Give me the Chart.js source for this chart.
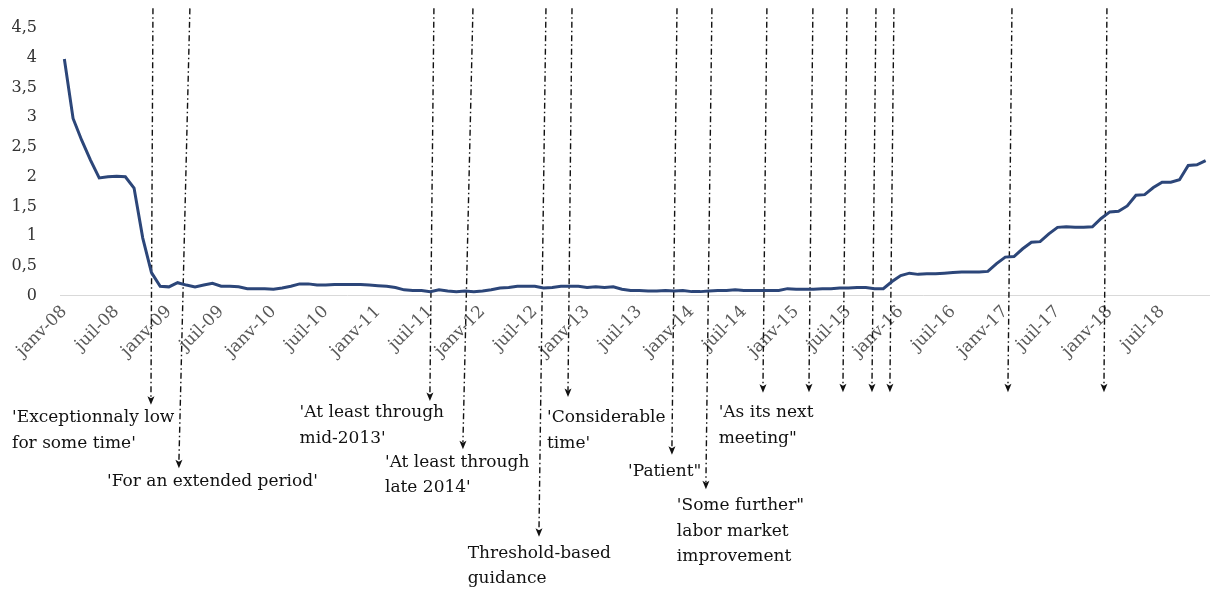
<!DOCTYPE html>
<html>
<head>
<meta charset="utf-8">
<script src="https://cdn.jsdelivr.net/npm/chart.js@4.4.1/dist/chart.umd.min.js"></script>
<style>
  html, body { margin: 0; padding: 0; background: #fff; }
  #wrap { width: 1210px; height: 594px; }
</style>
</head>
<body>
<div id="wrap"><canvas id="fedFundsChart"></canvas></div>
<script>
// Mois (janv-08 ... déc-18)
const monthNames = ['janv', 'févr', 'mars', 'avr', 'mai', 'juin', 'juil', 'août', 'sept', 'oct', 'nov', 'déc'];
const years = ['08', '09', '10', '11', '12', '13', '14', '15', '16', '17', '18'];
const months = [];
years.forEach(y => monthNames.forEach(m => months.push(m + '-' + y)));

// Taux effectif des fed funds, moyenne mensuelle (%)
const fedFunds = [
  3.98, 2.98, 2.61, 2.28, 1.98, 2.00, 2.01, 2.00, 1.81, 0.97, 0.39, 0.16,
  0.15, 0.22, 0.18, 0.15, 0.18, 0.21, 0.16, 0.16, 0.15, 0.12, 0.12, 0.12,
  0.11, 0.13, 0.16, 0.20, 0.20, 0.18, 0.18, 0.19, 0.19, 0.19, 0.19, 0.18,
  0.17, 0.16, 0.14, 0.10, 0.09, 0.09, 0.07, 0.10, 0.08, 0.07, 0.08, 0.07,
  0.08, 0.10, 0.13, 0.14, 0.16, 0.16, 0.16, 0.13, 0.14, 0.16, 0.16, 0.16,
  0.14, 0.15, 0.14, 0.15, 0.11, 0.09, 0.09, 0.08, 0.08, 0.09, 0.08, 0.09,
  0.07, 0.07, 0.08, 0.09, 0.09, 0.10, 0.09, 0.09, 0.09, 0.09, 0.09, 0.12,
  0.11, 0.11, 0.11, 0.12, 0.12, 0.13, 0.13, 0.14, 0.14, 0.12, 0.12, 0.24,
  0.34, 0.38, 0.36, 0.37, 0.37, 0.38, 0.39, 0.40, 0.40, 0.40, 0.41, 0.54,
  0.65, 0.66, 0.79, 0.90, 0.91, 1.04, 1.15, 1.16, 1.15, 1.15, 1.16, 1.30,
  1.41, 1.42, 1.51, 1.69, 1.70, 1.82, 1.91, 1.91, 1.95, 2.19, 2.20, 2.27
];

const yTicks = [0, 0.5, 1, 1.5, 2, 2.5, 3, 3.5, 4, 4.5];

// Forward guidance : flèches (index de mois, valeurs en unités de l'axe y)
const arrowTopY = 4.83;
const guidance = [
  { top: 10.17, tip: 9.94, tipY: -1.83, tx: -6.0, ty: -2.05, text: ["'Exceptionnaly low", "for some time'"] },
  { top: 14.41, tip: 13.15, tipY: -2.9, tx: 4.9, ty: -3.12, text: ["'For an extended period'"] },
  { top: 42.42, tip: 41.96, tipY: -1.77, tx: 27.0, ty: -1.97, text: ["'At least through", "mid-2013'"] },
  { top: 46.9, tip: 45.75, tipY: -2.58, tx: 36.8, ty: -2.8, text: ["'At least through", "late 2014'"] },
  { top: 55.28, tip: 54.48, tipY: -4.05, tx: 46.3, ty: -4.33, text: ["Threshold-based", "guidance"] },
  { top: 58.27, tip: 57.81, tipY: -1.7, tx: 55.4, ty: -2.05, text: ["'Considerable", "time'"] },
  { top: 70.32, tip: 69.74, tipY: -2.67, tx: 64.7, ty: -2.95, text: ["'Patient\""] },
  { top: 74.33, tip: 73.64, tipY: -3.25, tx: 70.3, ty: -3.53, text: ["'Some further\"", "labor market", "improvement"] },
  { top: 80.64, tip: 80.19, tipY: -1.63, tx: 75.1, ty: -1.97, text: ["'As its next", "meeting\""] },
  { top: 85.92, tip: 85.47, tipY: -1.62 },
  { top: 89.83, tip: 89.37, tipY: -1.62 },
  { top: 93.16, tip: 92.7, tipY: -1.62 },
  { top: 95.22, tip: 94.76, tipY: -1.62 },
  { top: 108.77, tip: 108.31, tipY: -1.62 },
  { top: 119.67, tip: 119.33, tipY: -1.62 }
];

const serif = 'DejaVu Serif';

const guidancePlugin = {
  id: 'guidanceArrows',
  beforeDatasetsDraw(chart) {
    const { ctx, scales: { x, y } } = chart;
    ctx.save();
    ctx.strokeStyle = '#111';
    ctx.fillStyle = '#111';
    ctx.lineWidth = 1.4;
    guidance.forEach(g => {
      const x1 = x.getPixelForValue(g.top);
      const y1 = y.getPixelForValue(arrowTopY);
      const x2 = x.getPixelForValue(g.tip);
      const y2 = y.getPixelForValue(g.tipY);
      ctx.setLineDash([6, 3, 1.5, 3]);
      ctx.beginPath();
      ctx.moveTo(x1, y1);
      ctx.lineTo(x2, y2 - 7);
      ctx.stroke();
      ctx.setLineDash([]);
      ctx.beginPath();
      ctx.moveTo(x2, y2);
      ctx.lineTo(x2 - 3.5, y2 - 8.5);
      ctx.lineTo(x2, y2 - 6.5);
      ctx.lineTo(x2 + 3.5, y2 - 8.5);
      ctx.closePath();
      ctx.fill();
    });
    ctx.restore();
  },
  afterDraw(chart) {
    const { ctx, scales: { x, y } } = chart;
    ctx.save();
    ctx.fillStyle = '#111';
    ctx.font = '17px "' + serif + '"';
    ctx.textAlign = 'left';
    ctx.textBaseline = 'middle';
    guidance.forEach(g => {
      if (!g.text) return;
      const tx = x.getPixelForValue(g.tx);
      const ty = y.getPixelForValue(g.ty);
      g.text.forEach((line, i) => ctx.fillText(line, tx, ty + i * 25.5));
    });
    ctx.restore();
  }
};

new Chart(document.getElementById('fedFundsChart'), {
  type: 'line',
  data: {
    labels: months,
    datasets: [{
      label: 'Fed funds effectif',
      data: fedFunds,
      borderColor: '#2c4679',
      borderWidth: 3,
      pointRadius: 0,
      tension: 0,
      fill: false
    }]
  },
  options: {
    responsive: true,
    maintainAspectRatio: false,
    animation: false,
    layout: {
      padding: { left: 12, right: 0, top: 28, bottom: 227 }
    },
    plugins: {
      legend: { display: false },
      tooltip: { enabled: false }
    },
    scales: {
      x: {
        offset: true,
        grid: { display: false, drawTicks: false },
        border: { display: true, color: '#d9d9d9', width: 1 },
        afterFit: scale => {
          scale.paddingLeft = 0;
          scale.paddingRight = 0;
        },
        ticks: {
          autoSkip: false,
          minRotation: 45,
          maxRotation: 45,
          padding: 6,
          color: '#595959',
          font: { family: serif, size: 17 },
          callback: function (value, index) {
            return index % 6 === 0 ? this.getLabelForValue(value) : '';
          }
        }
      },
      y: {
        min: 0,
        max: 4.5,
        grid: { display: false, drawTicks: false },
        border: { display: false },
        afterBuildTicks: scale => {
          scale.ticks = yTicks.map(v => ({ value: v }));
        },
        afterFit: scale => {
          scale.width = 48;
          scale.paddingTop = 0;
          scale.paddingBottom = 0;
        },
        ticks: {
          padding: 23,
          color: '#333',
          font: { family: serif, size: 16 },
          callback: value => String(value).replace('.', ',')
        }
      }
    }
  },
  plugins: [guidancePlugin]
});
</script>
</body>
</html>
